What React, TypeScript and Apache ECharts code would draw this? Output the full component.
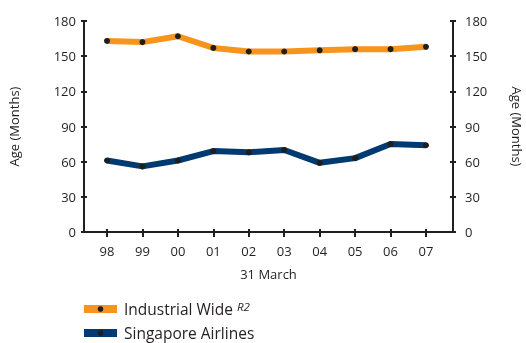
import React, { useEffect, useRef } from "react";
import * as echarts from "echarts";

const years = ["98", "99", "00", "01", "02", "03", "04", "05", "06", "07"];
const industrialWide = [163, 162, 167, 157, 154, 154, 155, 156, 156, 158];
const singaporeAirlines = [61, 56, 61, 69, 68, 70, 59, 63, 75, 74];
const yTicks = { min: 0, max: 180, interval: 30 };
const seriesNames = ["Industrial Wide", "Singapore Airlines"];
const seriesColors = ["#f7941d", "#003a70"];

const FONT = "Open Sans";
const TXT = "#231f20";
const AX = "#231f20";

export default function App() {
  const ref = useRef<HTMLDivElement>(null);
  useEffect(() => {
    if (!ref.current) return;
    const chart = echarts.init(ref.current, null, { renderer: "svg" });
    const axisLine = { show: true, lineStyle: { color: AX, width: 2 } };
    const tick = (inside: boolean, len: number) => ({
      show: true,
      inside,
      length: len,
      lineStyle: { color: AX, width: 2 },
    });
    const yBase = {
      type: "value" as const,
      min: yTicks.min,
      max: yTicks.max,
      interval: yTicks.interval,
      splitLine: { show: false },
    };
    const legendItems: any[] = [];
    seriesNames.forEach((name, i) => {
      const cy = 309 + i * 24;
      legendItems.push(
        {
          type: "rect",
          shape: { x: 84, y: cy - 4, width: 33, height: 8 },
          style: { fill: seriesColors[i] },
        },
        {
          type: "circle",
          shape: { cx: 100.5, cy, r: 2.8 },
          style: { fill: "#1e1e1e" },
        },
        {
          type: "text",
          x: 124,
          y: cy,
          style: {
            text:
              i === 0 ? "{a|" + name + " }{sup|R2}" : "{a|" + name + "}",
            verticalAlign: "middle",
            fill: TXT,
            font: `15.5px "${FONT}"`,
            rich: {
              a: { fontSize: 15.5, fontFamily: FONT, fill: TXT },
              sup: {
                fontSize: 11.5,
                fontFamily: FONT,
                fontStyle: "italic",
                fill: TXT,
                verticalAlign: "top",
                padding: [0, 0, 6, 0],
              },
            },
          },
        }
      );
    });
    chart.setOption({
      animation: false,
      textStyle: { fontFamily: FONT },
      grid: [
        { left: 84, right: 73, top: 21, bottom: 111, outerBoundsMode: "none", containLabel: false },
        { left: 107, right: 100, top: 21, bottom: 111, outerBoundsMode: "none", containLabel: false },
      ],
      xAxis: [
        {
          gridIndex: 0,
          type: "value",
          min: 0,
          max: 1,
          position: "bottom",
          axisLine,
          axisTick: { show: false },
          axisLabel: { show: false },
          splitLine: { show: false },
          name: "31 March",
          nameLocation: "middle",
          nameGap: 35,
          nameTextStyle: { color: TXT, fontSize: 13, fontFamily: FONT },
        },
        {
          gridIndex: 1,
          type: "category",
          data: years,
          boundaryGap: false,
          position: "bottom",
          axisLine: { show: false },
          axisTick: tick(false, 5),
          axisLabel: { color: TXT, fontSize: 13, fontFamily: FONT, margin: 12 },
        },
        {
          gridIndex: 1,
          type: "category",
          data: years,
          boundaryGap: false,
          position: "bottom",
          axisLine: { show: false },
          axisTick: tick(true, 3),
          axisLabel: { show: false },
        },
      ],
      yAxis: [
        {
          ...yBase,
          gridIndex: 0,
          position: "left",
          axisLine,
          axisTick: tick(false, 3),
          axisLabel: { color: TXT, fontSize: 13, fontFamily: FONT, margin: 8 },
          name: "Age (Months)",
          nameLocation: "middle",
          nameGap: 64,
          nameRotate: 90,
          nameTextStyle: { color: TXT, fontSize: 13, fontFamily: FONT },
        },
        {
          ...yBase,
          gridIndex: 0,
          position: "right",
          axisLine,
          axisTick: tick(false, 3),
          axisLabel: { color: TXT, fontSize: 13, fontFamily: FONT, margin: 12 },
          name: "Age (Months)",
          nameLocation: "middle",
          nameGap: 57,
          nameRotate: -90,
          nameTextStyle: { color: TXT, fontSize: 13, fontFamily: FONT, lineHeight: 14 },
        },
        {
          ...yBase,
          gridIndex: 0,
          position: "left",
          axisLine: { show: false },
          axisTick: tick(true, 3),
          axisLabel: { show: false },
        },
        {
          ...yBase,
          gridIndex: 0,
          position: "right",
          axisLine: { show: false },
          axisTick: tick(true, 3),
          axisLabel: { show: false },
        },
        {
          ...yBase,
          gridIndex: 1,
          show: false,
        },
      ],
      graphic: legendItems,
      series: [
        {
          name: seriesNames[0],
          type: "line",
          xAxisIndex: 1,
          yAxisIndex: 4,
          data: industrialWide,
          symbol: "circle",
          symbolSize: 6,
          itemStyle: { color: "#1e1e1e" },
          lineStyle: { color: seriesColors[0], width: 6 },
        },
        {
          name: seriesNames[1],
          type: "line",
          xAxisIndex: 1,
          yAxisIndex: 4,
          data: singaporeAirlines,
          symbol: "circle",
          symbolSize: 6,
          itemStyle: { color: "#1e1e1e" },
          lineStyle: { color: seriesColors[1], width: 6 },
        },
      ],
    } as any);
    return () => chart.dispose();
  }, []);
  return (
    <div
      ref={ref}
      style={{ position: "fixed", left: 0, top: 0, width: 526, height: 343 }}
    />
  );
}
